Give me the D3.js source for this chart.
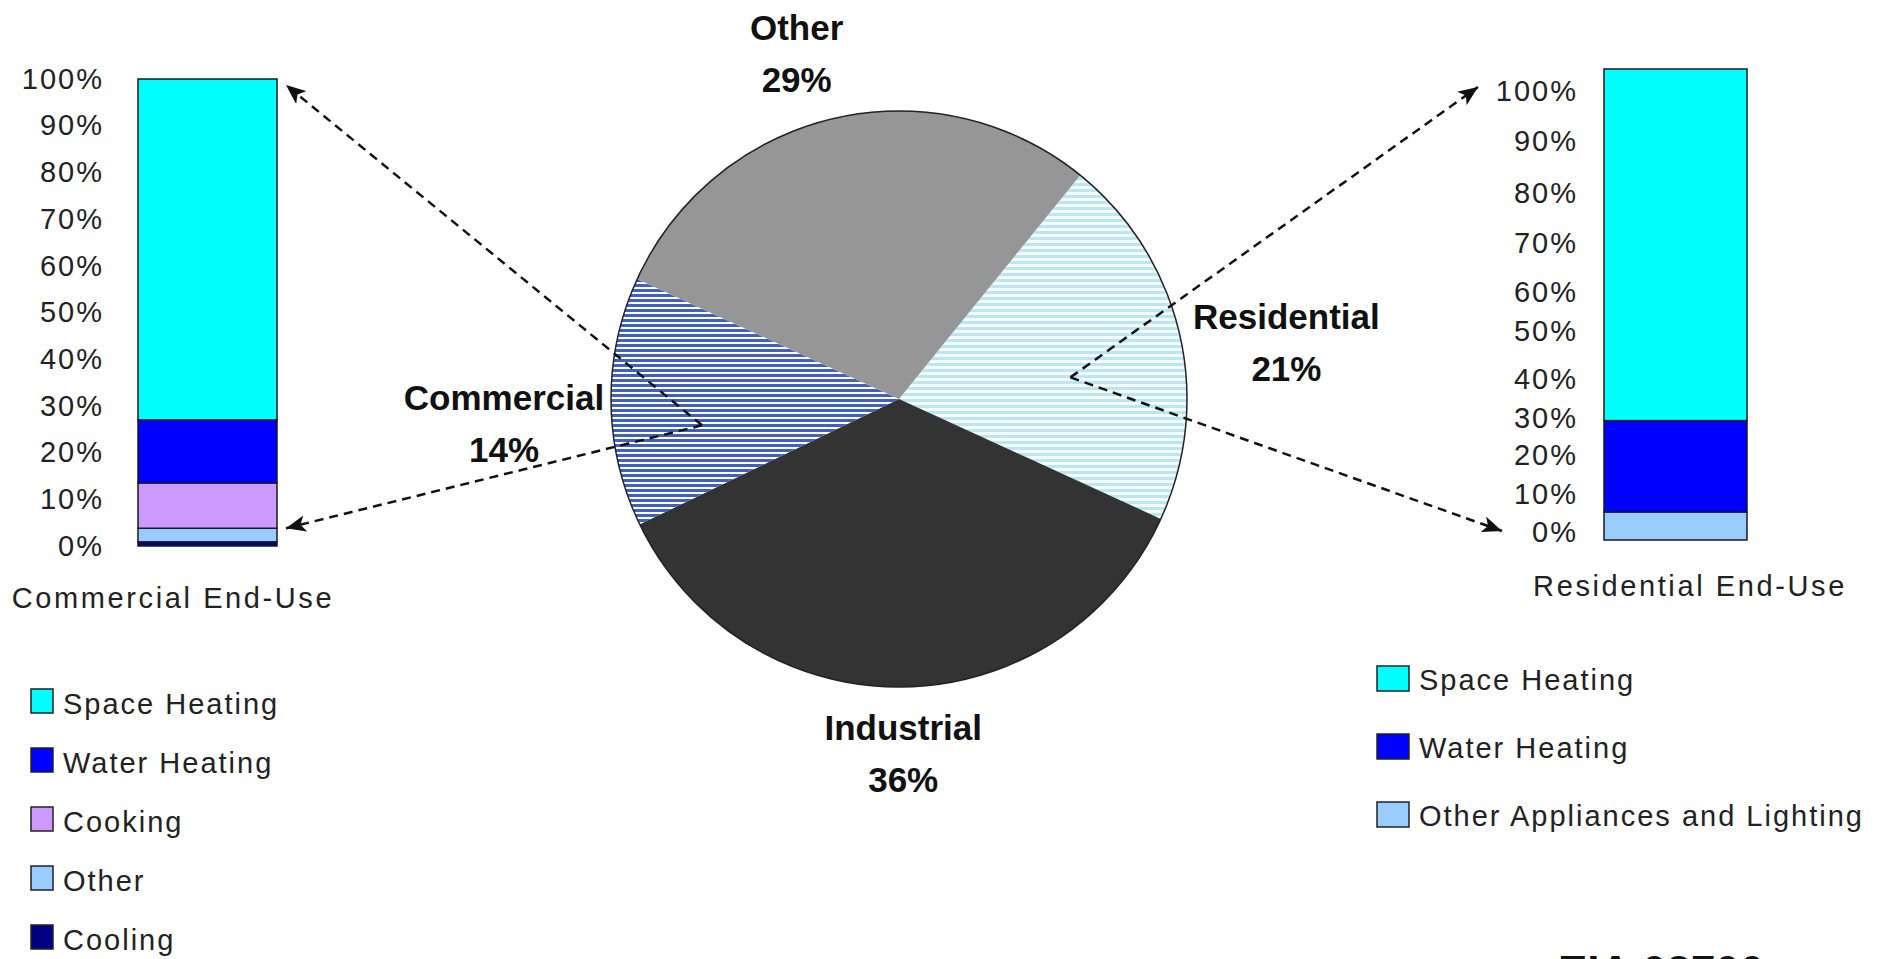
<!DOCTYPE html>
<html lang="en">
<head>
<meta charset="utf-8">
<title>Energy Use by Sector</title>
<script src="https://d3js.org/d3.v7.min.js"></script>
<style>
  body { margin: 0; background: #fff; }
  svg { display: block; font-family: "Liberation Sans", Arial, sans-serif; }
  .tick text, .leg text, .cap { font-size: 29px; letter-spacing: 2px; fill: #222; }
  .cap { letter-spacing: 2.6px; }
  .plabel { font-size: 35px; font-weight: bold; fill: #111; }
</style>
</head>
<body>
<svg id="chart" width="1890" height="959"></svg>
<script>
// pie: share of energy by sector (clockwise from the Residential slice)
const sectors = ["Residential", "Industrial", "Commercial", "Other"];
const sectorShares = [21, 36, 14, 29];

// stacked bars, listed top of bar first (same order as legends)
const commercialUses = ["Space Heating", "Water Heating", "Cooking", "Other", "Cooling"];
const commercialShares = [73, 13.5, 9.7, 2.9, 0.9];

const residentialUses = ["Space Heating", "Water Heating", "Other Appliances and Lighting"];
const residentialShares = [70.7, 23.2, 6.1];

const pctTicks = [0, 10, 20, 30, 40, 50, 60, 70, 80, 90, 100];

const useColor = {
  "Space Heating": "#00ffff",
  "Water Heating": "#0000ff",
  "Cooking": "#cc99ff",
  "Other": "#99ccff",
  "Cooling": "#000080",
  "Other Appliances and Lighting": "#99ccff"
};

const svg = d3.select("#chart");
const defs = svg.append("defs");

function stripes(id, ink, paper, inkH, period) {
  const p = defs.append("pattern")
    .attr("id", id)
    .attr("patternUnits", "userSpaceOnUse")
    .attr("width", 10)
    .attr("height", period);
  p.append("rect").attr("width", 10).attr("height", period).attr("fill", paper);
  p.append("rect").attr("width", 10).attr("height", inkH).attr("fill", ink);
}
stripes("comStripes", "#4060c4", "#ffffff", 3, 5);
stripes("resStripes", "#bde6f3", "#f4fcff", 3, 6);

defs.append("marker")
  .attr("id", "head")
  .attr("viewBox", "0 0 12 10")
  .attr("refX", 12).attr("refY", 5)
  .attr("markerWidth", 8).attr("markerHeight", 6.6)
  .attr("orient", "auto")
  .append("path")
  .attr("d", "M0,0 L12,5 L0,10 L3,5 Z")
  .attr("fill", "#111");

// ---- stacked bar helper
function drawBar(uses, shares, x, y, pad) {
  const g = svg.append("g");
  let acc = 0;
  const segs = d3.reverse(d3.range(uses.length)).map(i => {
    const s = { name: uses[i], lo: acc, hi: acc + shares[i] };
    acc += shares[i];
    return s;
  });
  g.selectAll("rect")
    .data(segs)
    .join("rect")
    .attr("x", x.range()[0])
    .attr("width", x.bandwidth())
    .attr("y", d => y(Math.min(d.hi, 100)))
    .attr("height", d => y(d.lo) - y(Math.min(d.hi, 100)))
    .attr("fill", d => useColor[d.name])
    .attr("stroke", "#1a1a1a")
    .attr("stroke-width", 1.5);

  const ax = svg.append("g")
    .attr("transform", `translate(${x.range()[0]},0)`)
    .call(d3.axisLeft(y).tickValues(pctTicks).tickFormat(d => d + "%").tickSize(0).tickPadding(pad));
  ax.select(".domain").remove();
  ax.attr("font-family", null).attr("font-size", null);
  return ax;
}

// left: commercial end-use
const xCom = d3.scaleBand().domain(["Commercial End-Use"]).range([138, 277]);
const yCom = d3.scaleLinear().domain([0, 100]).range([546, 79]);
drawBar(commercialUses, commercialShares, xCom, yCom, 34);

// right: residential end-use (axis labels in the source are unevenly spaced)
const xRes = d3.scaleBand().domain(["Residential End-Use"]).range([1604, 1747]);
const yRes = d3.scaleLinear().domain(pctTicks)
  .range([540, 494, 455, 418, 379, 331, 292, 243, 193, 141, 69]);
const axRes = drawBar(residentialUses, residentialShares, xRes, yRes, 26);
// end labels of this axis sit inside the bar ends in the original
axRes.selectAll(".tick").filter(d => d === 100).select("text").attr("y", 22);
axRes.selectAll(".tick").filter(d => d === 0).select("text").attr("y", -8);

svg.append("text").attr("class", "cap").attr("text-anchor", "middle")
  .attr("x", 173).attr("y", 608).text(xCom.domain()[0]);
svg.append("text").attr("class", "cap").attr("text-anchor", "middle")
  .attr("x", 1690).attr("y", 596).text(xRes.domain()[0]);

// ---- pie
const cx = 899, cy = 399, R = 288;
const start = 39 * Math.PI / 180;
const pie = d3.pie().sort(null).startAngle(start).endAngle(start + 2 * Math.PI);
const arcs = pie(sectorShares);
const arc = d3.arc().innerRadius(0).outerRadius(R);
const sectorFill = {
  "Residential": "url(#resStripes)",
  "Industrial": "#333333",
  "Commercial": "url(#comStripes)",
  "Other": "#969696"
};

const pg = svg.append("g").attr("transform", `translate(${cx},${cy})`);
pg.selectAll("path")
  .data(arcs)
  .join("path")
  .attr("d", arc)
  .attr("fill", (d, i) => sectorFill[sectors[i]]);
pg.append("circle").attr("r", R).attr("fill", "none").attr("stroke", "#222").attr("stroke-width", 1.5);

// labels sit on an ellipse outside the pie, with small nudges like the original
const labelNudge = { "Other": [-11, 0], "Residential": [-2, 25], "Industrial": [0, 0], "Commercial": [5, 21] };
const mid = d => (d.startAngle + d.endAngle) / 2;
arcs.forEach((d, i) => {
  const name = sectors[i];
  const lx = Math.sin(mid(d)) * 400 + labelNudge[name][0];
  const ly = -Math.cos(mid(d)) * 355 + labelNudge[name][1];
  const t = pg.append("text").attr("class", "plabel").attr("text-anchor", "middle");
  t.append("tspan").attr("x", lx).attr("y", ly - 26).attr("dy", "0.35em").text(name);
  t.append("tspan").attr("x", lx).attr("y", ly + 26).attr("dy", "0.35em").text(sectorShares[i] + "%");
});

// ---- dashed callouts from slices to the bars
function callout(d, turn, k, tips) {
  const p = d3.pointRadial(mid(d) + turn * Math.PI / 180, k * R);
  const v = [cx + p[0], cy + p[1]];
  tips.forEach(t => {
    svg.append("path")
      .attr("d", d3.line()([v, t]))
      .attr("fill", "none")
      .attr("stroke", "#111")
      .attr("stroke-width", 2.5)
      .attr("stroke-dasharray", "9,6")
      .attr("marker-end", "url(#head)");
  });
}
const comArc = arcs[sectors.indexOf("Commercial")];
const resArc = arcs[sectors.indexOf("Residential")];
const comRight = xCom.range()[1];
callout(comArc, -7, 0.69, [
  [comRight + 9, yCom(100) + 6],
  [comRight + 9, yCom(commercialShares[3] + commercialShares[4])]
]);
const resLeft = xRes.range()[0];
callout(resArc, 6, 0.6, [
  [resLeft - 126, yRes(100) + 18],
  [resLeft - 102, yRes(0) - 9]
]);

// ---- legends
const legL = svg.append("g").attr("class", "leg");
commercialUses.forEach((u, i) => {
  const yc = 704 + i * 59;
  legL.append("rect").attr("x", 31).attr("y", yc - 15).attr("width", 22).attr("height", 24)
    .attr("fill", useColor[u]).attr("stroke", "#222").attr("stroke-width", 1.5);
  legL.append("text").attr("x", 63).attr("y", yc).attr("dy", "0.35em").text(u);
});

const legR = svg.append("g").attr("class", "leg").style("letter-spacing", "2.2px");
residentialUses.forEach((u, i) => {
  const yc = 680 + i * 68;
  legR.append("rect").attr("x", 1377).attr("y", yc - 14).attr("width", 32).attr("height", 25)
    .attr("fill", useColor[u]).attr("stroke", "#222").attr("stroke-width", 1.5);
  legR.append("text").attr("x", 1419).attr("y", yc).attr("dy", "0.35em").text(u);
});

// source tag, cut off at the bottom edge as in the original
svg.append("text")
  .attr("x", 1558).attr("y", 987)
  .attr("font-size", 44).attr("font-weight", "bold").attr("fill", "#111")
  .text("EIA 03700");
</script>
</body>
</html>
